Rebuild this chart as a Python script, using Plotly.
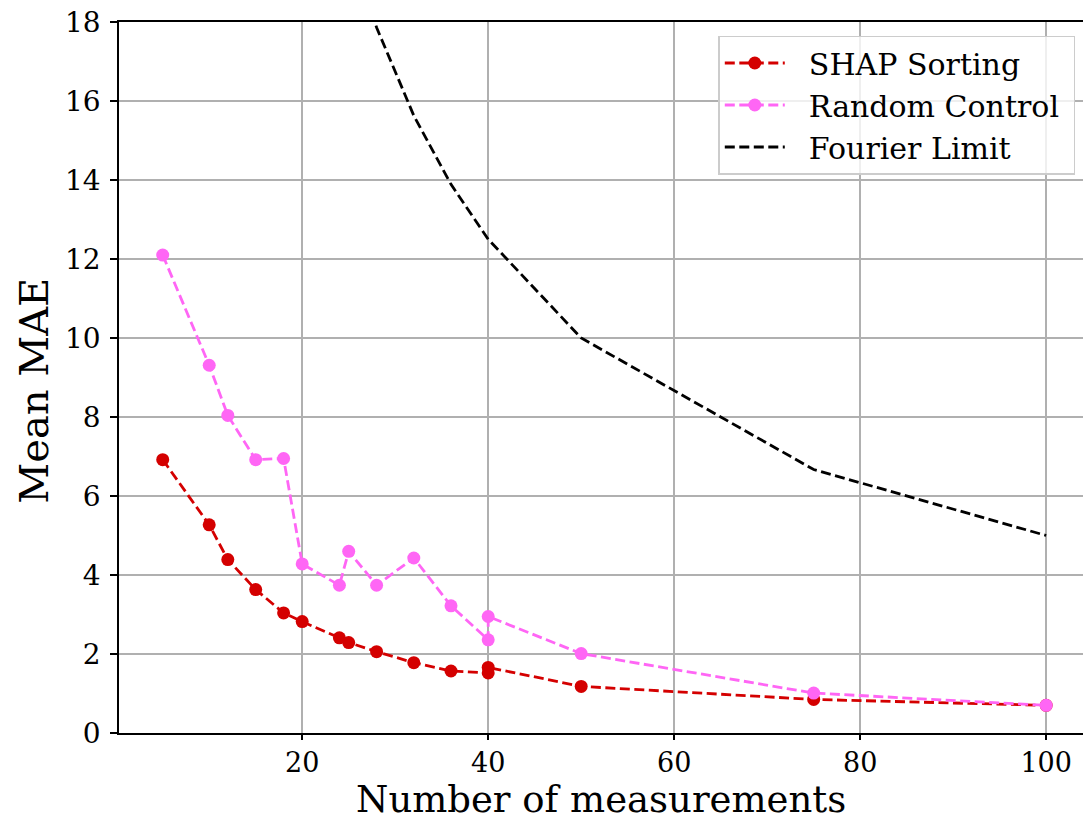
import plotly.graph_objects as go

shap_x = [5, 10, 12, 15, 18, 20, 24, 25, 28, 32, 36, 40, 40, 50, 75, 100]
shap_y = [6.92, 5.27, 4.39, 3.63, 3.04, 2.82, 2.41, 2.29, 2.06, 1.78, 1.57, 1.52, 1.66, 1.18, 0.85, 0.7]

rand_x = [5, 10, 12, 15, 18, 20, 24, 25, 28, 32, 36, 40, 40, 50, 75, 100]
rand_y = [12.1, 9.31, 8.04, 6.92, 6.95, 4.28, 3.74, 4.6, 3.74, 4.43, 3.22, 2.36, 2.95, 2.01, 1.01, 0.7]

four_x = [20, 24, 25, 28, 32, 36, 40, 50, 75, 100]
four_y = [25.0, 20.83, 20.0, 17.86, 15.63, 13.89, 12.5, 10.0, 6.67, 5.0]

x_ticks = [20, 40, 60, 80, 100]
y_ticks = [0, 2, 4, 6, 8, 10, 12, 14, 16, 18]

names = ["SHAP Sorting", "Random Control", "Fourier Limit"]
x_title = "Number of measurements"
y_title = "Mean MAE"

FONT = "DejaVu Serif"
DASH = "10px,4.5px"
PAD = "\u00a0\u00a0"
TAIL = "\u00a0"

fig = go.Figure()
fig.add_trace(go.Scatter(
    x=shap_x, y=shap_y, mode="lines+markers", name=PAD + names[0] + TAIL,
    line=dict(color="#d40000", width=2.8, dash=DASH),
    marker=dict(color="#d40000", size=13), legendgroup="a"))
fig.add_trace(go.Scatter(
    x=rand_x, y=rand_y, mode="lines+markers", name=PAD + names[1] + TAIL,
    line=dict(color="#ff66f5", width=2.8, dash=DASH),
    marker=dict(color="#ff66f5", size=13), legendgroup="b"))
fig.add_trace(go.Scatter(
    x=four_x, y=four_y, mode="lines", name=PAD + names[2] + TAIL,
    line=dict(color="black", width=2.8, dash=DASH), legendgroup="c"))

fig.update_layout(
    width=1083, height=822,
    margin=dict(l=119, r=0, t=22, b=88.5),
    paper_bgcolor="white", plot_bgcolor="white",
    font=dict(family=FONT, color="black"),
    showlegend=True,
    legend=dict(
        x=0.992, y=0.981, xanchor="right", yanchor="top",
        bgcolor="rgba(255,255,255,0.8)", bordercolor="#cccccc", borderwidth=1.5,
        font=dict(family=FONT, size=30), tracegroupgap=0, traceorder="grouped",
        itemwidth=60,
    ),
    xaxis=dict(
        range=[0.3, 103.96], tickvals=x_ticks, ticktext=[str(v) for v in x_ticks],
        showgrid=True, gridcolor="#b0b0b0", gridwidth=1.5,
        showline=True, linecolor="black", linewidth=1.5, mirror=True,
        ticks="outside", ticklen=5, tickwidth=1.5, tickcolor="black",
        tickfont=dict(family=FONT, size=27), automargin=False,
        zeroline=False,
    ),
    yaxis=dict(
        range=[0, 18], tickvals=y_ticks, ticktext=[str(v) for v in y_ticks],
        showgrid=True, gridcolor="#b0b0b0", gridwidth=1.5,
        showline=True, linecolor="black", linewidth=1.5,
        ticks="outside", ticklen=7, tickwidth=1.5, tickcolor="black",
        tickfont=dict(family=FONT, size=28), ticklabelstandoff=4, automargin=False,
        zeroline=False,
    ),
    annotations=[
        dict(text=x_title, xref="paper", yref="paper", x=0.5, y=-(822 - 733.5) / 711.5,
             xanchor="center", yanchor="bottom", showarrow=False, borderpad=0, borderwidth=0,
             font=dict(family=FONT, size=37, color="black")),
        dict(text=y_title, xref="paper", yref="paper", x=(34 - 119) / 964, y=(733.5 - 391) / 711.5,
             xanchor="center", yanchor="middle", showarrow=False, textangle=-90,
             font=dict(family=FONT, size=40, color="black")),
    ],
)

fig.write_html("out.html")
